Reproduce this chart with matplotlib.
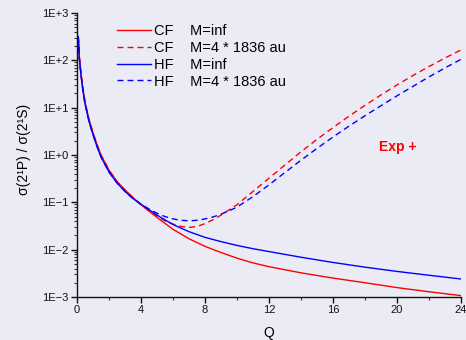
import matplotlib
matplotlib.use("Agg")
import matplotlib.pyplot as plt
from matplotlib.ticker import FixedLocator, LogLocator, NullFormatter, FixedFormatter

plt.rcParams['font.family'] = ['Liberation Sans', 'DejaVu Sans']
plt.rcParams['lines.scale_dashes'] = False

# ---- data ----
q_solid = [0.08, 0.15, 0.25, 0.35, 0.5, 0.75, 1.0, 1.25, 1.5, 2.0, 2.5, 3.0, 3.5, 4.0,
           5, 6, 7, 8, 9, 10, 11, 12, 14, 16, 18, 20, 22, 24]
cf_inf = [320, 112, 52.5, 28.2, 13.2, 5.62, 2.95, 1.66, 1.0, 0.479, 0.275, 0.182, 0.126, 0.0891,
          0.0479, 0.0269, 0.0170, 0.01175, 0.00871, 0.00661, 0.00525, 0.00437, 0.00324,
          0.00251, 0.00200, 0.00158, 0.00129, 0.00107]
hf_inf = [316, 107, 49.0, 25.7, 12.0, 5.13, 2.69, 1.51, 0.912, 0.437, 0.257, 0.170, 0.120, 0.0912,
          0.0537, 0.0339, 0.0240, 0.0182, 0.0148, 0.0123, 0.01047, 0.00912, 0.00692,
          0.00537, 0.00427, 0.00347, 0.00288, 0.00240]

q_dash = [0.08, 0.15, 0.25, 0.35, 0.5, 0.75, 1.0, 1.25, 1.5, 2.0, 2.5, 3.0, 3.5, 4.0,
          4.5, 5, 5.5, 6, 6.5, 7, 7.5, 8, 8.5, 9, 9.5, 10,
          11, 12, 13, 14, 15, 16, 17, 18, 19, 20, 21, 22, 23, 24]
cf_m4 = [320, 112, 52.5, 28.2, 13.2, 5.62, 2.95, 1.66, 1.0, 0.479, 0.275, 0.182, 0.126, 0.0891,
         0.0661, 0.0513, 0.0407, 0.0347, 0.0309, 0.0295, 0.0309, 0.0355, 0.0427, 0.0537, 0.0692, 0.0891,
         0.170, 0.324, 0.617, 1.17, 2.14, 3.80, 6.61, 11.2, 18.6, 30.2, 47.9, 74.1, 112, 166]
hf_m4 = [316, 107, 49.0, 25.7, 12.0, 5.13, 2.69, 1.51, 0.912, 0.437, 0.257, 0.170, 0.120, 0.0912,
         0.0724, 0.0589, 0.0501, 0.0447, 0.0417, 0.0407, 0.0417, 0.0447, 0.0490, 0.0562, 0.0661, 0.0794,
         0.132, 0.234, 0.427, 0.776, 1.38, 2.40, 4.07, 6.76, 11.0, 17.8, 28.2, 44.7, 69.2, 105]

labels = ["CF    M=inf", "CF    M=4 * 1836 au", "HF    M=inf", "HF    M=4 * 1836 au"]
x_ticks = [0, 4, 8, 12, 16, 20, 24]
y_ticks = [1e-3, 1e-2, 1e-1, 1e0, 1e1, 1e2, 1e3]
y_tick_labels = ["1E\u22123", "1E\u22122", "1E\u22121", "1E+0", "1E+1", "1E+2", "1E+3"]

bg = "#EBEBF5"
fig = plt.figure(figsize=(4.66, 3.40), dpi=100, facecolor=bg)
ax = fig.add_axes([77/466, 1-297/340, 384/466, 284/340])
ax.set_facecolor(bg)

dash = (0, (4.3, 2.9))
lw = 1.0
ax.plot(q_solid, cf_inf, color="#FF0000", lw=lw, label=labels[0])
ax.plot(q_dash, cf_m4, color="#FF0000", lw=lw, ls=dash, label=labels[1])
ax.plot(q_solid, hf_inf, color="#0000FF", lw=lw, label=labels[2])
ax.plot(q_dash, hf_m4, color="#0000FF", lw=lw, ls=dash, label=labels[3])

ax.set_yscale("log")
ax.set_xlim(0, 24)
ax.set_ylim(1e-3, 1e3)

ax.xaxis.set_major_locator(FixedLocator(x_ticks))
ax.xaxis.set_minor_locator(FixedLocator([2, 6, 10, 14, 18, 22]))
ax.set_xticklabels([str(t) for t in x_ticks])
ax.yaxis.set_major_locator(FixedLocator(y_ticks))
ax.yaxis.set_major_formatter(FixedFormatter(y_tick_labels))
ax.yaxis.set_minor_locator(LogLocator(base=10, subs=range(2, 10), numticks=20))
ax.yaxis.set_minor_formatter(NullFormatter())

ax.tick_params(which="major", direction="out", length=4, width=1, labelsize=8, colors="#111111", pad=2)
ax.tick_params(which="minor", direction="out", length=2.5, width=0.8, colors="#333333")

for s in ["top", "right"]:
    ax.spines[s].set_visible(False)
for s in ["left", "bottom"]:
    ax.spines[s].set_linewidth(1.0)
    ax.spines[s].set_color("#111111")

ax.set_xlabel("Q", fontsize=10, labelpad=8)
ax.set_ylabel("σ(2¹P) / σ(2¹S)", fontsize=10)
ax.yaxis.set_label_coords(-0.12, 0.518)

ax.text(398, 340 - 147, "Exp +", transform=None, color="#FF0000", fontsize=10, fontweight="bold",
        ha="center", va="center")

leg = ax.legend(loc="upper left", bbox_to_anchor=(0.105, 0.962), frameon=False,
                fontsize=10.5, handlelength=2.3, handletextpad=0.2, labelspacing=0.2,
                borderpad=0, borderaxespad=0)

fig.savefig("out.png", dpi=100, facecolor=bg)
